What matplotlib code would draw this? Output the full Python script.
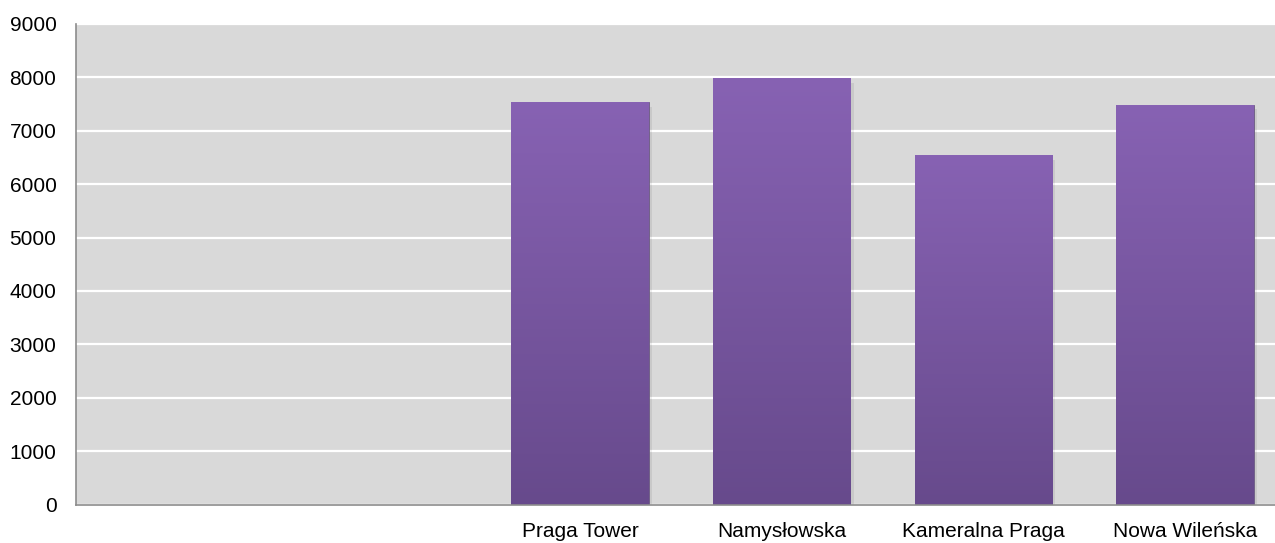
import numpy as np
import matplotlib.pyplot as plt
from matplotlib.colors import LinearSegmentedColormap

# Dane
categories = ["", "", "Praga Tower", "Namysłowska", "Kameralna Praga", "Nowa Wileńska"]
values = [np.nan, np.nan, 7530, 7980, 6540, 7480]
y_ticks = [0, 1000, 2000, 3000, 4000, 5000, 6000, 7000, 8000, 9000]

plt.rcParams['font.family'] = ['Liberation Sans', 'DejaVu Sans']

fig = plt.figure(figsize=(12.75, 5.43), dpi=100)
ax = fig.add_axes([0.0595, 0.0709, 0.949, 0.885])
ax.set_facecolor("#d9d9d9")

x = np.arange(len(categories))
width = 0.68

# cien pod słupkami
ax.bar(x + 0.012, values, width=width + 0.01, bottom=-80, color="#000000", alpha=0.07, zorder=2)
bars = ax.bar(x, values, width=width, color="#8762b3", edgecolor="#6a5a80", linewidth=0.6, zorder=3)

# gradient w słupkach
cmap = LinearSegmentedColormap.from_list("purp", ["#674a8c", "#8762b3"])
grad = np.linspace(0, 1, 256).reshape(-1, 1)
for b, v in zip(bars, values):
    if np.isnan(v):
        continue
    x0 = b.get_x()
    im = ax.imshow(grad, cmap=cmap, aspect="auto", origin="lower",
                   extent=[x0, x0 + b.get_width(), 0, v], zorder=3)
    im.set_clip_path(b)

ax.set_xlim(-0.5, len(categories) - 0.5)
ax.set_ylim(0, 9000)
ax.set_yticks(y_ticks)
ax.set_xticks(x)
ax.set_xticklabels(categories)
ax.grid(axis="y", color="white", linewidth=1.6, zorder=1)
ax.set_axisbelow(True)

for s in ["top", "right"]:
    ax.spines[s].set_visible(False)
for s in ["left", "bottom"]:
    ax.spines[s].set_color("#8c8c8c")
    ax.spines[s].set_linewidth(1.2)
    ax.spines[s].set_zorder(4)

ax.tick_params(axis="both", length=0, labelsize=15)
ax.tick_params(axis="y", pad=14)
ax.tick_params(axis="x", pad=12.5)

fig.savefig("out.png", dpi=100)
